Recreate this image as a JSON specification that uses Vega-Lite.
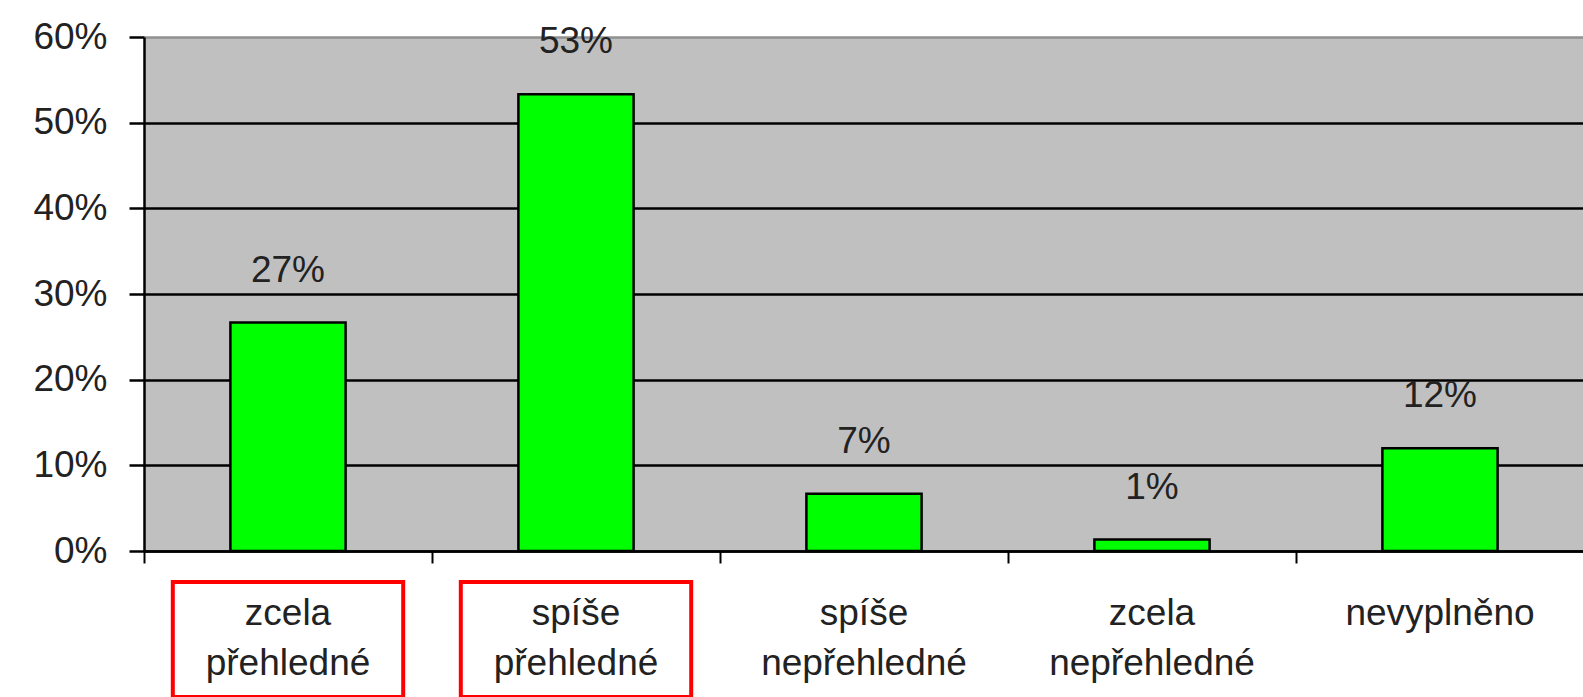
{
  "$schema": "https://vega.github.io/schema/vega-lite/v6.json",
  "padding": {"left": 32, "top": 18, "right": 0, "bottom": 0},
  "background": "white",
  "config": {"view": {"stroke": null}, "font": "Liberation Sans", "concat": {"spacing": 11}},
  "data": {"values": [
    {"odpoved": "zcela\npřehledné", "podil": 0.2667, "oznaceno": true},
    {"odpoved": "spíše\npřehledné", "podil": 0.5333, "oznaceno": true},
    {"odpoved": "spíše\nnepřehledné", "podil": 0.0667, "oznaceno": false},
    {"odpoved": "zcela\nnepřehledné", "podil": 0.0133, "oznaceno": false},
    {"odpoved": "nevyplněno", "podil": 0.12, "oznaceno": false}
  ]},
  "vconcat": [
    {
      "width": 1440,
      "height": 514,
      "view": {"fill": "#C0C0C0", "stroke": null},
      "encoding": {
        "x": {"field": "odpoved", "type": "nominal", "sort": null,
          "scale": {"paddingInner": 0, "paddingOuter": 0},
          "axis": {"labels": false, "title": null, "domainColor": "black", "domainWidth": 2.5,
            "tickBand": "extent", "tickColor": "black", "tickWidth": 2, "tickSize": 12}}
      },
      "layer": [
        {
          "mark": {"type": "bar", "color": "#00FF00", "stroke": "black", "strokeWidth": 2.5, "width": {"band": 0.4}},
          "encoding": {
            "y": {"field": "podil", "type": "quantitative",
              "scale": {"domain": [0, 0.6], "nice": false},
              "axis": {"title": null, "format": ".0%", "values": [0, 0.1, 0.2, 0.3, 0.4, 0.5, 0.6],
                "grid": true,
                "gridColor": {"condition": {"test": "datum.value >= 0.6", "value": "#909090"}, "value": "black"},
                "gridWidth": 2.5, "domainColor": "black", "domainWidth": 2.5,
                "tickColor": "black", "tickWidth": 2.5, "tickSize": 15, "labelPadding": 22,
                "labelFontSize": 37, "labelColor": "#222222", "labelFont": "Liberation Sans"}}
          }
        },
        {
          "mark": {"type": "text", "baseline": "bottom", "dy": -33, "fontSize": 37, "color": "#222222"},
          "encoding": {
            "y": {"field": "podil", "type": "quantitative"},
            "text": {"field": "podil", "type": "quantitative", "format": ".0%"}
          }
        }
      ]
    },
    {
      "width": 1440,
      "height": 115,
      "encoding": {
        "x": {"field": "odpoved", "type": "nominal", "sort": null,
          "scale": {"paddingInner": 0.2, "paddingOuter": 0.1}, "axis": null}
      },
      "layer": [
        {
          "transform": [{"filter": "datum.oznaceno"}],
          "mark": {"type": "rect", "fill": "white", "stroke": "#FF0000", "strokeWidth": 4}
        },
        {
          "mark": {"type": "text", "lineBreak": "\n", "fontSize": 37, "lineHeight": 50, "dy": -26, "color": "#222222"},
          "encoding": {"text": {"field": "odpoved", "type": "nominal"}}
        }
      ]
    }
  ],
  "resolve": {"scale": {"x": "independent"}}
}
